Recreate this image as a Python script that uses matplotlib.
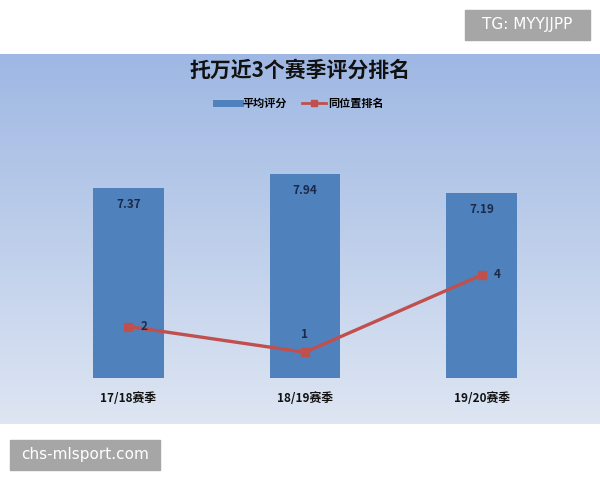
import numpy as np
import matplotlib.pyplot as plt
from matplotlib.lines import Line2D
from matplotlib.patches import Rectangle

plt.rcParams['font.family'] = ['Noto Sans CJK SC', 'DejaVu Sans']

# 数据
seasons = ['17/18赛季', '18/19赛季', '19/20赛季']
ratings = [7.37, 7.94, 7.19]
ranks = [2, 1, 4]

bar_color = '#4f81bd'
line_color = '#c0504d'
label_color = '#1b2a4a'

fig = plt.figure(figsize=(6, 4.8), dpi=100)
fig.patch.set_facecolor('white')

# 渐变背景面板
bg = fig.add_axes([0, 1 - 424 / 480, 1, 370 / 480])
top = np.array([0.62, 0.72, 0.89])
bot = np.array([0.87, 0.90, 0.95])
t = np.linspace(0, 1, 256)[:, None]
grad = top * (1 - t) + bot * t
bg.imshow(grad[:, None, :].repeat(2, axis=1), aspect='auto', extent=[0, 1, 0, 1])
bg.axis('off')

# 主坐标轴
ax = fig.add_axes([40 / 600, 1 - 378 / 480, 530 / 600, 257.5 / 480])
ax.patch.set_alpha(0)
x = np.arange(len(seasons))
bars = ax.bar(x, ratings, width=0.4, color=bar_color, zorder=2)
ax.set_xlim(-0.5, 2.5)
ax.set_ylim(0, 10)
ax.set_yticks([])
ax.set_xticks(x)
ax.set_xticklabels(seasons, fontsize=8.5, fontweight='bold', color='#111111')
ax.tick_params(axis='x', length=0, pad=10)
for s in ax.spines.values():
    s.set_visible(False)
for xi, v in zip(x, ratings):
    ax.annotate(f'{v:.2f}', (xi, v), xytext=(0, -12), textcoords='offset points',
                ha='center', va='center', fontsize=8.5, fontweight='bold', color=label_color)

# 次坐标轴: 排名
ax2 = ax.twinx()
ax2.set_ylim(0, 10)
ax2.set_yticks([])
for s in ax2.spines.values():
    s.set_visible(False)
ax2.plot(x, ranks, color=line_color, lw=2.4, marker='s', markersize=6, zorder=3)
offsets = [(11, 0), (0, 13), (11, 0)]
for xi, r, off in zip(x, ranks, offsets):
    ax2.annotate(str(r), (xi, r), xytext=off, textcoords='offset points',
                 ha='center', va='center', fontsize=8.5, fontweight='bold', color=label_color)

# 标题和图例
fig.text(0.5, 1 - 70 / 480, '托万近3个赛季评分排名', ha='center', va='center',
         fontsize=15, fontweight='bold', color='#111111')
handles = [Line2D([], [], color=bar_color, lw=5),
           Line2D([], [], color=line_color, lw=2, marker='s', markersize=5)]
fig.legend(handles, ['平均评分', '同位置排名'], loc='center', ncol=2,
           bbox_to_anchor=(0.5, 1 - 103 / 480), frameon=False,
           prop={'size': 8, 'weight': 'bold'}, handlelength=2.2,
           handletextpad=0.2, columnspacing=1.3)

# 水印
for (x0, y0, w, h, txt) in [(465, 10, 125, 30, 'TG: MYYJJPP'), (10, 440, 150, 30, 'chs-mlsport.com')]:
    fig.patches.append(Rectangle((x0 / 600, 1 - (y0 + h) / 480), w / 600, h / 480,
                                 transform=fig.transFigure, color='#a6a6a6', zorder=5))
    fig.text((x0 + w / 2) / 600, 1 - (y0 + h / 2) / 480, txt, ha='center', va='center',
             fontsize=11, color='white', family=['DejaVu Sans'], zorder=6)

fig.savefig('out.png', dpi=100)
plt.close(fig)
